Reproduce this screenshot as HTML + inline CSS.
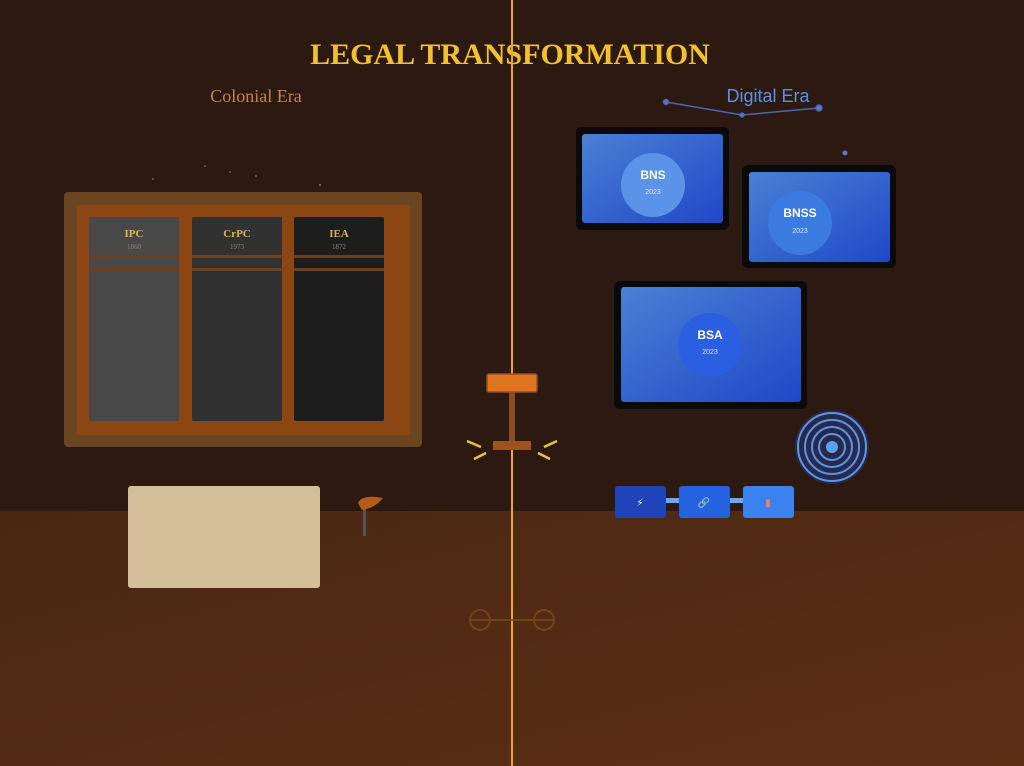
<!DOCTYPE html>
<html><head><meta charset="utf-8"><style>
html,body{margin:0;padding:0;background:#2c1911;}
svg{display:block}
</style></head><body>
<svg width="1024" height="766" viewBox="0 0 1024 766" xmlns="http://www.w3.org/2000/svg">
<defs>
<linearGradient id="floor" x1="0" y1="0" x2="1" y2="1"><stop offset="0" stop-color="#4a2712"/><stop offset="1" stop-color="#5c2f15"/></linearGradient>
<linearGradient id="scr" x1="0" y1="0" x2="1" y2="1"><stop offset="0" stop-color="#4a80d4"/><stop offset="1" stop-color="#1f48c8"/></linearGradient>
</defs>
<rect width="1024" height="766" fill="#2c1911"/>
<rect y="511" width="1024" height="255" fill="url(#floor)"/>
<!-- stars -->
<g fill="#7a5a44"><circle cx="153" cy="179" r="1"/><circle cx="205" cy="166" r="1"/><circle cx="230" cy="172" r="1"/><circle cx="256" cy="176" r="1"/><circle cx="320" cy="185" r="1.2"/></g>
<text x="510" y="64" text-anchor="middle" font-family="Liberation Serif,serif" font-weight="bold" font-size="30" fill="#f2c12e">LEGAL TRANSFORMATION</text>
<text x="256" y="102" text-anchor="middle" font-family="Liberation Serif,serif" font-size="18" fill="#c9834a">Colonial Era</text>
<text x="768" y="102" text-anchor="middle" font-family="Liberation Sans,sans-serif" font-size="18" fill="#5e8fe0">Digital Era</text>
<!-- bookshelf -->
<rect x="64" y="192" width="358" height="255" rx="4" fill="#6b4421"/>
<rect x="77" y="205" width="333" height="230" fill="#8b4614"/>
<g font-family="Liberation Serif,serif" text-anchor="middle">
<rect x="89" y="217" width="90" height="204" rx="2" fill="#484848"/>
<rect x="192" y="217" width="90" height="204" rx="2" fill="#313131"/>
<rect x="294" y="217" width="90" height="204" rx="2" fill="#1d1d1d"/>
<g fill="#6b3f22"><rect x="89" y="255" width="295" height="3"/><rect x="89" y="268" width="295" height="3"/></g>
<rect x="179" y="250" width="13" height="25" fill="#8b4614"/><rect x="282" y="250" width="12" height="25" fill="#8b4614"/>
<g font-weight="bold" font-size="11" fill="#d9b45a"><text x="134" y="237">IPC</text><text x="237" y="237">CrPC</text><text x="339" y="237">IEA</text></g>
<g font-size="7" fill="#9a8070"><text x="134" y="249">1860</text><text x="237" y="249">1973</text><text x="339" y="249">1872</text></g>
</g>
<!-- desk & lamp -->
<rect x="128" y="486" width="192" height="102" rx="3" fill="#d4bf9a"/>
<rect x="363" y="508" width="3" height="28" fill="#555"/>
<path d="M358 503 Q362 494 383 498 Q375 508 362 510 Z" fill="#b05e1a"/>
<!-- center line -->
<rect x="511" y="0" width="2" height="766" fill="#e6a82a"/>
<rect x="509" y="392" width="6" height="50" fill="#8b4a22"/>
<rect x="487" y="374" width="50" height="18" rx="2" fill="#e07520" stroke="#9a4e1a" stroke-width="1.5"/>
<rect x="493" y="441" width="38" height="9" fill="#a0521e"/>
<g stroke="#e8c43a" stroke-width="2.5"><line x1="467" y1="441" x2="481" y2="447"/><line x1="474" y1="459" x2="486" y2="453"/><line x1="557" y1="441" x2="544" y2="447"/><line x1="550" y1="459" x2="538" y2="453"/></g>
<g stroke="#7a4a1e" stroke-width="2" fill="none" opacity="0.8"><circle cx="480" cy="620" r="10"/><circle cx="544" cy="620" r="10"/><line x1="470" y1="620" x2="554" y2="620"/></g>
<!-- constellation -->
<g stroke="#4a66b0" stroke-width="1.5" fill="#5a78c8"><line x1="666" y1="102" x2="742" y2="115"/><line x1="742" y1="115" x2="819" y2="108"/><circle cx="666" cy="102" r="2.5"/><circle cx="742" cy="115" r="2"/><circle cx="819" cy="108" r="3"/><circle cx="845" cy="153" r="2.5" stroke="none"/></g>
<!-- tablets -->
<rect x="576" y="127" width="153" height="103" rx="6" fill="#0a0a0a"/>
<rect x="582" y="134" width="141" height="89" rx="3" fill="url(#scr)"/>
<circle cx="653" cy="185" r="32" fill="#5a93e8"/>
<rect x="742" y="165" width="154" height="103" rx="6" fill="#0a0a0a"/>
<rect x="749" y="172" width="141" height="90" rx="3" fill="url(#scr)"/>
<circle cx="800" cy="223" r="32" fill="#3b7ae0"/>
<rect x="614" y="281" width="193" height="128" rx="6" fill="#0a0a0a"/>
<rect x="621" y="287" width="180" height="115" rx="3" fill="url(#scr)"/>
<circle cx="710" cy="345" r="32" fill="#2b5ee0"/>
<g font-family="Liberation Sans,sans-serif" text-anchor="middle" fill="#fff">
<text x="653" y="179" font-weight="bold" font-size="12">BNS</text><text x="653" y="194" font-size="7" fill="#dfe8ff">2023</text>
<text x="800" y="217" font-weight="bold" font-size="12">BNSS</text><text x="800" y="233" font-size="7" fill="#dfe8ff">2023</text>
<text x="710" y="339" font-weight="bold" font-size="12">BSA</text><text x="710" y="354" font-size="7" fill="#dfe8ff">2023</text>
</g>
<!-- target -->
<circle cx="832" cy="447" r="37" fill="#26305a" opacity="0.8"/>
<g fill="none" stroke="#5d94e8" stroke-width="2"><circle cx="832" cy="447" r="34"/><circle cx="832" cy="447" r="27"/><circle cx="832" cy="447" r="20"/><circle cx="832" cy="447" r="13"/></g>
<circle cx="832" cy="447" r="6" fill="#5da0f0"/>
<!-- chain -->
<rect x="660" y="498" width="100" height="5" fill="#6aa8f0"/>
<rect x="615" y="486" width="51" height="32" rx="3" fill="#1e44b8"/>
<rect x="679" y="486" width="51" height="32" rx="3" fill="#2462e0"/>
<rect x="743" y="486" width="51" height="32" rx="3" fill="#3a82f0"/>
<g font-family="DejaVu Sans,sans-serif" font-size="10" text-anchor="middle" fill="#fff"><text x="640" y="506">⚡</text><text x="704" y="506">🔗</text><text x="768" y="506" fill="#f08060">▮</text></g>
</svg>
</body></html>
